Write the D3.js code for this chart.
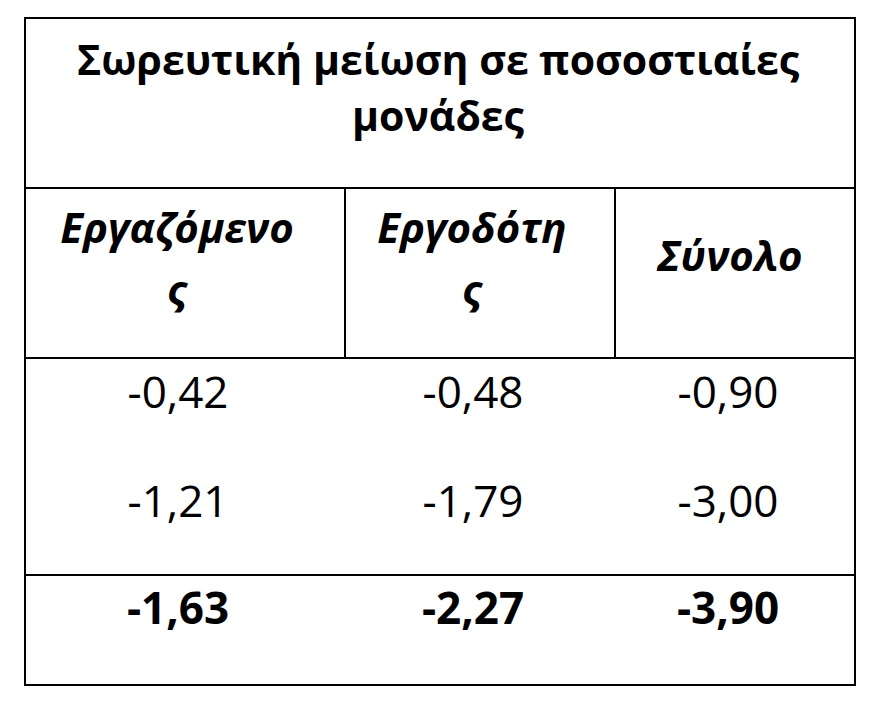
<!DOCTYPE html>
<html><head><meta charset="utf-8">
<script src="https://cdn.jsdelivr.net/npm/d3@7"></script>
<style>body{margin:0;background:#fff}</style></head>
<body><svg id="c" width="880" height="710"></svg>
<script>
const titleLines = ["Σωρευτική μείωση σε ποσοστιαίες", "μονάδες"];
const headers = [["Εργαζόμενο","ς"],["Εργοδότη","ς"],["Σύνολο"]];
const row1 = ["-0,42","-0,48","-0,90"];
const row2 = ["-1,21","-1,79","-3,00"];
const totals = ["-1,63","-2,27","-3,90"];

const svg = d3.select("#c");
const font = "'Open Sans', 'DejaVu Sans', sans-serif";
const L=25, R=855, T=18, B=685;
const x = d3.scaleLinear().domain([0,1,2,3]).range([L,345,615,R]);
const cx = i => (x(i)+x(i+1))/2;
const lines = svg.append("g").attr("stroke","#000").attr("stroke-width",2);
lines.append("rect").attr("x",L).attr("y",T).attr("width",R-L).attr("height",B-T).attr("fill","none");
[188,358,575].forEach(y=>lines.append("line").attr("x1",L).attr("x2",R).attr("y1",y).attr("y2",y));
[1,2].forEach(i=>lines.append("line").attr("x1",x(i)).attr("x2",x(i)).attr("y1",188).attr("y2",358));

const t = (tx,ty,s,o={})=>svg.append("text").attr("x",tx).attr("y",ty).attr("text-anchor","middle")
  .attr("dominant-baseline","middle").attr("font-family",font).attr("font-size",o.size||44)
  .attr("font-weight",o.bold?"bold":"normal").attr("font-style",o.italic?"italic":"normal").text(s);

titleLines.forEach((s,i)=>t(438,64+i*56,s,{bold:true,size:41}));
headers.forEach((h,i)=>{
  if(h.length===1) t(cx(i)-5,260,h[0],{bold:true,italic:true,size:42});
  else h.forEach((s,j)=>t(cx(i)-8,232+j*62,s,{bold:true,italic:true,size:42}));
});
row1.forEach((s,i)=>t(cx(i)-7,396,s));
row2.forEach((s,i)=>t(cx(i)-7,505,s));
totals.forEach((s,i)=>t(cx(i)-7,612,s,{bold:true}));
</script></body></html>
